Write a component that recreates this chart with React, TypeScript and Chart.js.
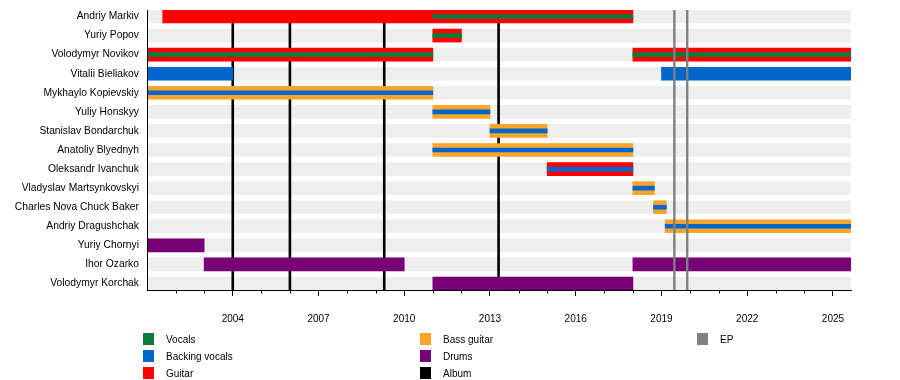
import React, { useEffect, useRef } from "react";
import { Chart, registerables } from "chart.js";

Chart.register(...registerables);

const MEMBERS = [
  "Andriy Markiv",
  "Yuriy Popov",
  "Volodymyr Novikov",
  "Vitalii Bieliakov",
  "Mykhaylo Kopievskiy",
  "Yuliy Honskyy",
  "Stanislav Bondarchuk",
  "Anatoliy Blyednyh",
  "Oleksandr Ivanchuk",
  "Vladyslav Martsynkovskyi",
  "Charles Nova Chuck Baker",
  "Andriy Dragushchak",
  "Yuriy Chornyi",
  "Ihor Ozarko",
  "Volodymyr Korchak",
];

const START = 2001;
const END = 2025.63;

type Span = [string, number, number];

const GUITAR: Span[] = [
  ["Andriy Markiv", 2001.55, 2018],
  ["Yuriy Popov", 2011, 2012],
  ["Volodymyr Novikov", 2001, 2011],
  ["Volodymyr Novikov", 2018, END],
  ["Oleksandr Ivanchuk", 2015, 2018],
];

const BASS: Span[] = [
  ["Mykhaylo Kopievskiy", 2001, 2011],
  ["Yuliy Honskyy", 2011, 2013],
  ["Stanislav Bondarchuk", 2013, 2015],
  ["Anatoliy Blyednyh", 2011, 2018],
  ["Vladyslav Martsynkovskyi", 2018, 2018.75],
  ["Charles Nova Chuck Baker", 2018.72, 2019.17],
  ["Andriy Dragushchak", 2019.13, END],
];

const DRUMS: Span[] = [
  ["Yuriy Chornyi", 2001, 2003],
  ["Ihor Ozarko", 2003, 2010],
  ["Ihor Ozarko", 2018, END],
  ["Volodymyr Korchak", 2011, 2018],
];

const BACKING_VOCALS: Span[] = [
  ["Vitalii Bieliakov", 2001, 2004],
  ["Vitalii Bieliakov", 2019, END],
];

const VOCALS_SECONDARY: Span[] = [
  ["Andriy Markiv", 2011, 2018],
  ["Yuriy Popov", 2011, 2012],
  ["Volodymyr Novikov", 2001, 2011],
  ["Volodymyr Novikov", 2018, END],
];

const BACKING_VOCALS_SECONDARY: Span[] = [
  ["Mykhaylo Kopievskiy", 2001, 2011],
  ["Yuliy Honskyy", 2011, 2013],
  ["Stanislav Bondarchuk", 2013, 2015],
  ["Anatoliy Blyednyh", 2011, 2018],
  ["Oleksandr Ivanchuk", 2015, 2018],
  ["Vladyslav Martsynkovskyi", 2018, 2018.75],
  ["Charles Nova Chuck Baker", 2018.72, 2019.17],
  ["Andriy Dragushchak", 2019.13, END],
];

const ALBUMS = [2004, 2006, 2009.3, 2013.3];
const EPS = [2019.45, 2019.9];

const MAJOR_TICKS = [2004, 2007, 2010, 2013, 2016, 2019, 2022, 2025];
const MINOR_TICKS = [2002, 2003, 2005, 2006, 2008, 2009, 2011, 2012, 2014, 2015, 2017, 2018, 2020, 2021, 2023, 2024];

const LEGEND_COLUMNS = [
  ["Vocals", "Backing vocals", "Guitar"],
  ["Bass guitar", "Drums", "Album"],
  ["EP"],
];

const COLORS: Record<string, string> = {
  Vocals: "#0b7a3b",
  "Backing vocals": "#0066cc",
  Guitar: "#ff0000",
  "Bass guitar": "#f9a52c",
  Drums: "#770077",
  Album: "#000000",
  EP: "#808080",
  Band: "#eeeeee",
};

const FONT = "'Liberation Sans', Arial, sans-serif";

const toPoints = (spans: Span[]) =>
  spans.map(([name, s, e]) => ({ x: [s, e], y: MEMBERS.indexOf(name) }));

const timelinePlugin = {
  id: "timelineExtras",
  afterDatasetDraw(chart: any, args: any) {
    if (args.index !== 0) return;
    const { ctx, chartArea } = chart;
    const xs = chart.scales.x;
    ctx.save();
    ctx.strokeStyle = COLORS.Album;
    ctx.lineWidth = 2.6;
    ALBUMS.forEach((v) => {
      const px = xs.getPixelForValue(v);
      ctx.beginPath();
      ctx.moveTo(px, chartArea.top);
      ctx.lineTo(px, chartArea.bottom);
      ctx.stroke();
    });
    ctx.restore();
  },
  afterDatasetsDraw(chart: any) {
    const { ctx, chartArea } = chart;
    const xs = chart.scales.x;
    ctx.save();
    ctx.strokeStyle = COLORS.EP;
    ctx.lineWidth = 2.4;
    EPS.forEach((v) => {
      const px = xs.getPixelForValue(v);
      ctx.beginPath();
      ctx.moveTo(px, chartArea.top);
      ctx.lineTo(px, chartArea.bottom);
      ctx.stroke();
    });
    ctx.restore();
  },
  afterDraw(chart: any) {
    const { ctx, chartArea } = chart;
    const xs = chart.scales.x;
    ctx.save();
    ctx.strokeStyle = "#000";
    ctx.lineWidth = 1;
    MINOR_TICKS.forEach((v) => {
      const px = Math.round(xs.getPixelForValue(v)) + 0.5;
      ctx.beginPath();
      ctx.moveTo(px, chartArea.bottom);
      ctx.lineTo(px, chartArea.bottom + 3.5);
      ctx.stroke();
    });
    // legend
    const colX = [143, 420, 697];
    const rowY = [339, 356, 373];
    ctx.font = `10px ${FONT}`;
    ctx.textBaseline = "middle";
    ctx.textAlign = "left";
    LEGEND_COLUMNS.forEach((col, ci) => {
      col.forEach((label, ri) => {
        const x = colX[ci];
        const y = rowY[ri];
        ctx.fillStyle = COLORS[label];
        ctx.fillRect(x, y - 6, 11, 12);
        ctx.fillStyle = "#000";
        ctx.fillText(label, x + 23, y + 1);
      });
    });
    ctx.restore();
  },
};

export default function App() {
  const ref = useRef<HTMLCanvasElement | null>(null);

  useEffect(() => {
    if (!ref.current) return;
    const bar = (label: string, data: any[], color: string, thickness: number, order: number) => ({
      label,
      data,
      backgroundColor: color,
      borderWidth: 0,
      barThickness: thickness,
      grouped: false,
      order,
    });
    const chart = new Chart(ref.current, {
      type: "bar",
      data: {
        datasets: [
          bar("Band", MEMBERS.map((_, i) => ({ x: [START, END], y: i })), COLORS.Band, 13, 100),
          bar("Guitar", toPoints(GUITAR), COLORS.Guitar, 13, 50),
          bar("Bass guitar", toPoints(BASS), COLORS["Bass guitar"], 13, 50),
          bar("Drums", toPoints(DRUMS), COLORS.Drums, 13, 50),
          bar("Backing vocals", toPoints(BACKING_VOCALS), COLORS["Backing vocals"], 13, 50),
          bar("Vocals", toPoints(VOCALS_SECONDARY), COLORS.Vocals, 4, 10),
          bar("Backing vocals (secondary)", toPoints(BACKING_VOCALS_SECONDARY), COLORS["Backing vocals"], 4, 10),
        ] as any,
      },
      options: {
        indexAxis: "y",
        animation: false,
        responsive: false,
        maintainAspectRatio: false,
        layout: { padding: { top: 10, right: 49, left: 0, bottom: 0 } },
        plugins: { legend: { display: false }, tooltip: { enabled: false } },
        scales: {
          x: {
            type: "linear",
            position: "bottom",
            bounds: "data",
            min: START,
            max: END,
            afterBuildTicks: (s: any) => {
              s.ticks = MAJOR_TICKS.map((v) => ({ value: v }));
            },
            afterFit: (s: any) => {
              s.height = 90;
            },
            grid: { drawOnChartArea: false, tickLength: 6, color: "#000", tickColor: "#000" },
            border: { display: true, color: "#000", width: 1, z: 2 },
            ticks: {
              autoSkip: false,
              maxRotation: 0,
              padding: 17,
              color: "#000",
              font: { family: FONT, size: 10 },
              callback: (v: any) => String(v),
            },
          },
          y: {
            type: "linear",
            reverse: true,
            bounds: "data",
            offset: false,
            grace: 0,
            min: -0.34,
            max: 14.34,
            afterBuildTicks: (s: any) => {
              s.ticks = MEMBERS.map((_, i) => ({ value: i }));
            },
            afterFit: (s: any) => {
              s.width = 147;
              s.paddingTop = 0;
              s.paddingBottom = 0;
            },
            grid: { display: false, offset: false, drawTicks: false, tickLength: 0 },
            border: { display: true, color: "#000", width: 1, z: 2 },
            ticks: {
              autoSkip: false,
              padding: 8,
              color: "#000",
              font: { family: FONT, size: 10.3 },
              callback: (v: any) => MEMBERS[v],
            },
          },
        },
      } as any,
      plugins: [timelinePlugin],
    });
    return () => chart.destroy();
  }, []);

  return (
    <div style={{ position: "fixed", left: 0, top: 0, width: 900, height: 380, background: "#fff" }}>
      <canvas ref={ref} width={900} height={380} style={{ display: "block" }} />
    </div>
  );
}
